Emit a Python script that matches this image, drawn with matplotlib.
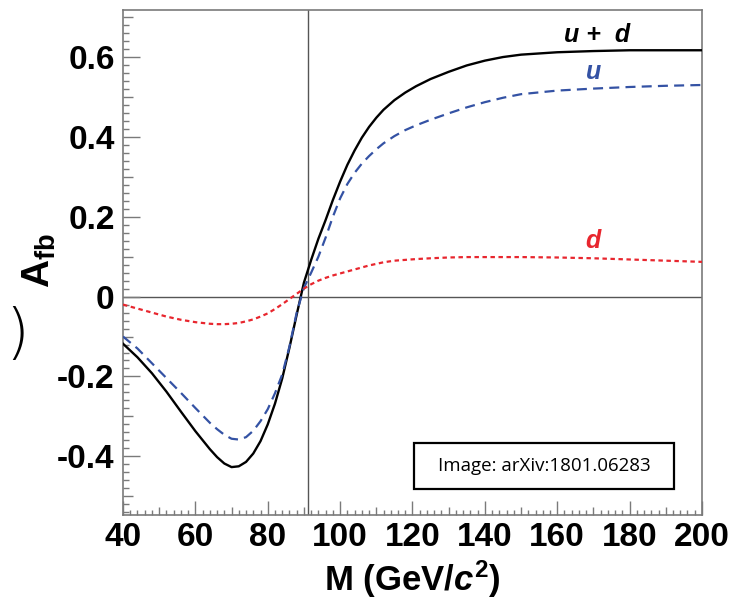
import matplotlib
matplotlib.use("Agg")
import matplotlib.pyplot as plt
from matplotlib.ticker import MultipleLocator
from matplotlib.patches import Rectangle

plt.rcParams['font.family'] = ['Liberation Sans', 'DejaVu Sans']
plt.rcParams['mathtext.fontset'] = 'custom'
plt.rcParams['mathtext.rm'] = 'Liberation Sans:bold'
plt.rcParams['mathtext.it'] = 'Liberation Sans:italic:bold'
plt.rcParams['mathtext.bf'] = 'Liberation Sans:bold'

# values
mass = [40, 44, 48, 52, 56, 60, 64, 66, 68, 70, 72, 74, 76, 78, 80, 82, 84, 86, 88, 90,
        92, 94, 96, 98, 100, 102, 104, 106, 108, 110, 112, 115, 118, 121, 125,
        130, 135, 140, 145, 150, 160, 170, 180, 190, 200]
afb_ud = [-0.118, -0.152, -0.192, -0.238, -0.288, -0.337, -0.382, -0.402, -0.418, -0.427,
          -0.425, -0.414, -0.393, -0.362, -0.320, -0.268, -0.205, -0.128, -0.045, 0.035,
          0.092, 0.145, 0.192, 0.242, 0.288, 0.330, 0.366, 0.398, 0.425, 0.448, 0.468,
          0.492, 0.511, 0.527, 0.545, 0.563, 0.579, 0.591, 0.600, 0.606, 0.612, 0.615,
          0.617, 0.617, 0.617]
afb_u = [-0.100, -0.130, -0.167, -0.204, -0.241, -0.279, -0.316, -0.332, -0.346, -0.356,
         -0.358, -0.352, -0.336, -0.312, -0.282, -0.242, -0.195, -0.125, -0.040, 0.022,
         0.060, 0.100, 0.148, 0.200, 0.246, 0.282, 0.310, 0.333, 0.352, 0.369, 0.384,
         0.402, 0.417, 0.429, 0.443, 0.459, 0.474, 0.487, 0.498, 0.507, 0.516, 0.521,
         0.525, 0.528, 0.530]
afb_d = [-0.020, -0.030, -0.040, -0.050, -0.058, -0.064, -0.068, -0.069, -0.069, -0.068,
         -0.066, -0.062, -0.057, -0.050, -0.042, -0.031, -0.019, -0.006, 0.007, 0.020,
         0.031, 0.040, 0.047, 0.053, 0.058, 0.063, 0.068, 0.073, 0.078, 0.082, 0.086,
         0.090, 0.092, 0.094, 0.096, 0.098, 0.099, 0.099, 0.099, 0.099, 0.098, 0.096,
         0.093, 0.090, 0.087]
m_z = 91.19

black = '#000000'
blue = '#3452a4'
red = '#e8262e'
frame = '#7a7a7a'

fig = plt.figure(figsize=(7.3, 6.02), dpi=100)
ax = fig.add_axes([0.1685, 0.1445, 0.7931, 0.839])

ax.axhline(0, color='#555555', lw=1.0, zorder=1)
ax.axvline(m_z, color='#555555', lw=1.0, zorder=1)

ax.plot(mass, afb_ud, color=black, lw=1.7, zorder=3)
ax.plot(mass, afb_u, color=blue, lw=1.6, ls=(0, (4.5, 2.8)), zorder=3)
ax.plot(mass, afb_d, color=red, lw=1.6, ls=(0, (2.0, 1.6)), zorder=3)

ax.text(171, 0.655, 'u +  d', color=black, fontsize=18, fontweight='bold',
        fontstyle='italic', ha='center', va='center')
ax.text(170, 0.562, 'u', color=blue, fontsize=18, fontweight='bold',
        fontstyle='italic', ha='center', va='center')
ax.text(170, 0.14, 'd', color=red, fontsize=18, fontweight='bold',
        fontstyle='italic', ha='center', va='center')

ax.set_xlim(40, 200)
ax.set_ylim(-0.547, 0.718)

ax.xaxis.set_major_locator(MultipleLocator(20))
ax.xaxis.set_minor_locator(MultipleLocator(2))
ax.yaxis.set_minor_locator(MultipleLocator(0.02))
ax.set_yticks([-0.4, -0.2, 0, 0.2, 0.4, 0.6])
ax.set_yticklabels(['-0.4', '-0.2', '0', '0.2', '0.4', '0.6'])

for s in ax.spines.values():
    s.set_color(frame)
    s.set_linewidth(1.2)

ax.tick_params(which='both', direction='in', top=False, right=False, colors=frame,
               labelcolor='black', labelsize=24, width=1.0)
ax.tick_params(axis='y', which='major', length=12, pad=6)
ax.tick_params(axis='y', which='minor', length=4)
ax.tick_params(axis='x', which='major', length=10, pad=5)
ax.tick_params(axis='x', which='minor', length=3.5)
for lab in ax.get_xticklabels() + ax.get_yticklabels():
    lab.set_fontweight('bold')

# medium ticks every 10 GeV and every 0.1
fig.canvas.draw()
for t, loc in zip(ax.xaxis.get_minor_ticks(), ax.xaxis.get_minorticklocs()):
    if abs(loc / 10 - round(loc / 10)) < 1e-6:
        t.tick1line.set_markersize(6)
for t, loc in zip(ax.yaxis.get_minor_ticks(), ax.yaxis.get_minorticklocs()):
    if abs(loc / 0.1 - round(loc / 0.1)) < 1e-6:
        t.tick1line.set_markersize(7.5)

ax.set_xlabel(r'M (GeV/$\mathit{c}^{2}$)', fontsize=25, fontweight='bold', labelpad=4)
ax.set_ylabel(r'$\mathrm{A}_{\mathrm{fb}}$', fontsize=28)
ax.yaxis.set_label_coords(-0.112, 0.503)

# credit box
ax.add_patch(Rectangle((0.5026, 0.0515), 0.449, 0.0905, transform=ax.transAxes,
                       fc='white', ec='black', lw=1.6, zorder=4))
ax.text(0.727, 0.097, 'Image: arXiv:1801.06283', transform=ax.transAxes,
        fontsize=13.5, family='Open Sans', ha='center', va='center', zorder=5)

# fragment from a neighbouring panel at the left edge
fig.text(0.024, 0.442, ')', fontsize=44, family='DejaVu Sans', fontweight='light',
         ha='center', va='center')

plt.savefig('out.png', dpi=100)
